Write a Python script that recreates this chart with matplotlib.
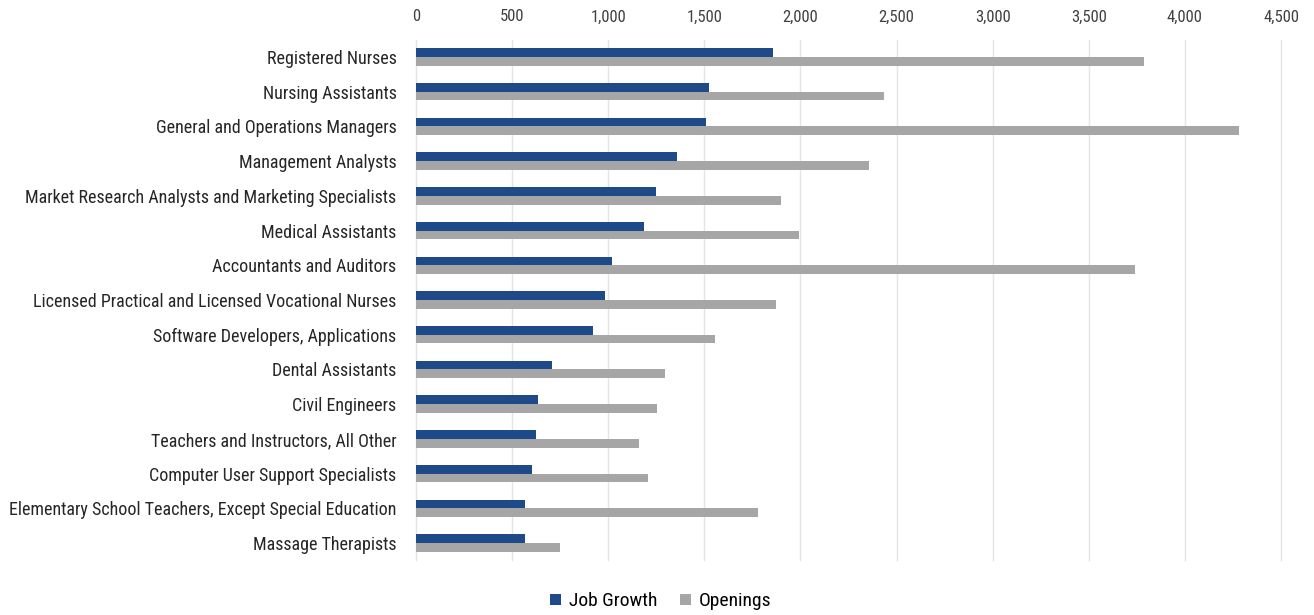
import numpy as np
import matplotlib
matplotlib.use("Agg")
import matplotlib.pyplot as plt
from matplotlib.ticker import FuncFormatter

plt.rcParams["font.family"] = ["Roboto Condensed", "Liberation Sans Narrow", "Liberation Sans", "DejaVu Sans"]

occupations = [
    "Registered Nurses",
    "Nursing Assistants",
    "General and Operations Managers",
    "Management Analysts",
    "Market Research Analysts and Marketing Specialists",
    "Medical Assistants",
    "Accountants and Auditors",
    "Licensed Practical and Licensed Vocational Nurses",
    "Software Developers, Applications",
    "Dental Assistants",
    "Civil Engineers",
    "Teachers and Instructors, All Other",
    "Computer User Support Specialists",
    "Elementary School Teachers, Except Special Education",
    "Massage Therapists",
]
job_growth = [1858, 1522, 1509, 1360, 1248, 1184, 1019, 983, 919, 706, 633, 624, 602, 567, 567]
openings = [3785, 2434, 4281, 2356, 1900, 1992, 3741, 1871, 1556, 1296, 1256, 1161, 1208, 1781, 751]
x_ticks = [0, 500, 1000, 1500, 2000, 2500, 3000, 3500, 4000, 4500]

BLUE = "#1f4a8a"
GRAY = "#a6a6a6"

fig = plt.figure(figsize=(13.14, 6.15), dpi=100)
ax = fig.add_axes([0.3166, 0.0888, 0.9749 - 0.3166, 0.9356 - 0.0888])

y = np.arange(len(occupations))
h = 0.25
ax.barh(y - h / 2, job_growth, height=h, color=BLUE, label="Job Growth", zorder=3)
ax.barh(y + h / 2, openings, height=h, color=GRAY, label="Openings", zorder=2)

ax.set_ylim(len(occupations) - 0.5, -0.5)
ax.set_xlim(0, 4500)
ax.set_yticks(y)
ax.set_yticklabels(occupations, fontsize=13, color="#262626")
ax.set_xticks(x_ticks)
ax.xaxis.set_major_formatter(FuncFormatter(lambda v, p: f"{int(v):,}"))
ax.xaxis.tick_top()
ax.tick_params(axis="x", length=0, pad=11, labelsize=12, labelcolor="#404040")
ax.tick_params(axis="y", length=0, pad=14)
ax.grid(True, axis="x", color="#e4e4e4", linewidth=1, zorder=0)
for line in ax.get_xgridlines():
    line.set_clip_on(False)
for s in ax.spines.values():
    s.set_visible(False)

fig.legend(loc="center", bbox_to_anchor=(0.503, 0.022), ncol=2, frameon=False,
           fontsize=14, handlelength=0.55, handleheight=0.55, handletextpad=0.4,
           columnspacing=1.2)

fig.savefig("out.png", dpi=100)
plt.close(fig)
